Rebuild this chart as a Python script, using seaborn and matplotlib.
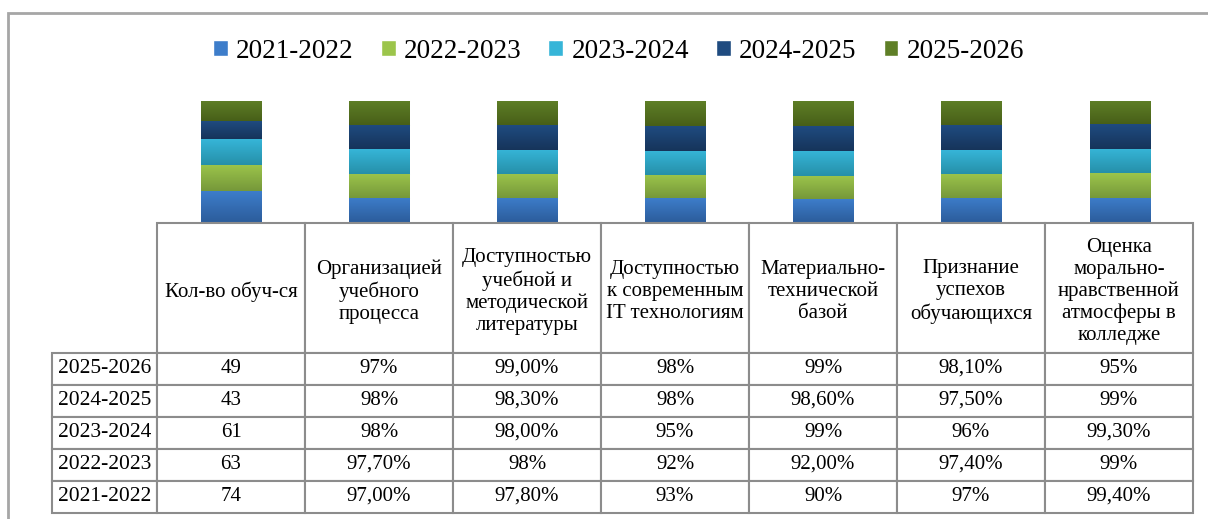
import numpy as np
import pandas as pd
import seaborn as sns
import matplotlib.pyplot as plt
from matplotlib.patches import Rectangle
from matplotlib.colors import to_rgb
from matplotlib.transforms import Affine2D

sns.set_theme(style="white")
plt.rcParams['font.family'] = ['Liberation Serif', 'DejaVu Serif']
plt.rcParams['text.color'] = 'black'

# categories (table headers)
categories = ["Кол-во обуч-ся",
              "Организацией\nучебного\nпроцесса",
              "Доступностью\nучебной и\nметодической\nлитературы",
              "Доступностью\nк современным\nIT технологиям",
              "Материально-\nтехнической\nбазой",
              "Признание\nуспехов\nобучающихся",
              "Оценка\nморально-\nнравственной\nатмосферы в\nколледже"]

years = ["2021-2022", "2022-2023", "2023-2024", "2024-2025", "2025-2026"]

# table cells as printed
v2021 = ["74", "97,00%", "97,80%", "93%", "90%", "97%", "99,40%"]
v2022 = ["63", "97,70%", "98%", "92%", "92,00%", "97,40%", "99%"]
v2023 = ["61", "98%", "98,00%", "95%", "99%", "96%", "99,30%"]
v2024 = ["43", "98%", "98,30%", "98%", "98,60%", "97,50%", "99%"]
v2025 = ["49", "97%", "99,00%", "98%", "99%", "98,10%", "95%"]
cells = [v2021, v2022, v2023, v2024, v2025]

# gradient colours (top, bottom)
grad = [("#3d7dca", "#2c5d9c"),
        ("#9cc54b", "#76983a"),
        ("#36b5d8", "#2690a9"),
        ("#1f4b80", "#16345a"),
        ("#5f7f27", "#475f18")]


def num(s):
    return float(s.strip('%').replace(',', '.'))


rows = []
for y, vals in zip(years, cells):
    for c, s in zip(categories, vals):
        rows.append({"category": c, "year": y, "value": num(s)})
df = pd.DataFrame(rows)
df["share"] = df["value"] / df.groupby("category")["value"].transform("sum")

W, H = 1208, 519
fig = plt.figure(figsize=(W / 100, H / 100), dpi=100)

# chart frame (cut off on the right and bottom)
fig.add_artist(Rectangle((8 / W, -0.2), 1.2, 1.2 - 13 / H, transform=fig.transFigure,
                         fill=False, edgecolor='#a6a6a6', lw=2))

ax = fig.add_axes([157 / W, 1 - 222 / H, 1037 / W, 121 / H])
bottom = np.zeros(len(categories))
for y, (ctop, cbot) in zip(years, grad):
    sub = df[df["year"] == y].set_index("category").loc[categories]
    n0 = len(ax.patches)
    sns.barplot(x=categories, y=sub["share"].values, order=categories, color=ctop,
                saturation=1, width=0.41, bottom=bottom, errorbar=None, ax=ax)
    img = np.linspace(to_rgb(ctop), to_rgb(cbot), 64).reshape(64, 1, 3)
    for p in ax.patches[n0:]:
        x0, y0, w, h = p.get_x(), p.get_y(), p.get_width(), p.get_height()
        ax.imshow(img, extent=(x0, x0 + w, y0, y0 + h), aspect='auto', zorder=3)
    bottom += sub["share"].values

ax.set_xlim(-0.5, len(categories) - 0.5)
ax.set_ylim(0, 1)
ax.axis('off')

# legend
handles = [Rectangle((0, 0), 1, 1, facecolor=c[0]) for c in grad]
fig.legend(handles, years, loc='center', bbox_to_anchor=(0.512, 1 - 51 / H), ncol=5,
           frameon=False, fontsize=19.5, handlelength=0.55, handleheight=0.55,
           handletextpad=0.3, columnspacing=1.0)

# data table: axes = header + data grid, row labels hang to the left
tw, th = 1036, 291
tax = fig.add_axes([157 / W, 1 - 513 / H, tw / W, th / H])
tax.axis('off')
tbl = tax.table(cellText=cells[::-1], rowLabels=years[::-1], colLabels=categories,
                cellLoc='center', rowLoc='center', loc='center')
tbl._autoColumns = []
tbl.auto_set_font_size(False)
tbl.set_fontsize(15)
for (r, c), cell in tbl.get_celld().items():
    cell.set_height((130 if r == 0 else 32) / th)
    cell.set_width((105 if c == -1 else 148) / tw)
    cell.set_edgecolor('#8c8c8c')
    cell.set_linewidth(1.5)
    cell.set_facecolor('white')
    cell.PAD = 0.01
    if r == 0:
        cell.get_text().set_linespacing(1.2)
        cell.get_text().set_transform(Affine2D().translate(0, -4))
    if c == -1:
        cell.get_text().set_fontsize(15.5)

fig.savefig('out.png', dpi=100)
